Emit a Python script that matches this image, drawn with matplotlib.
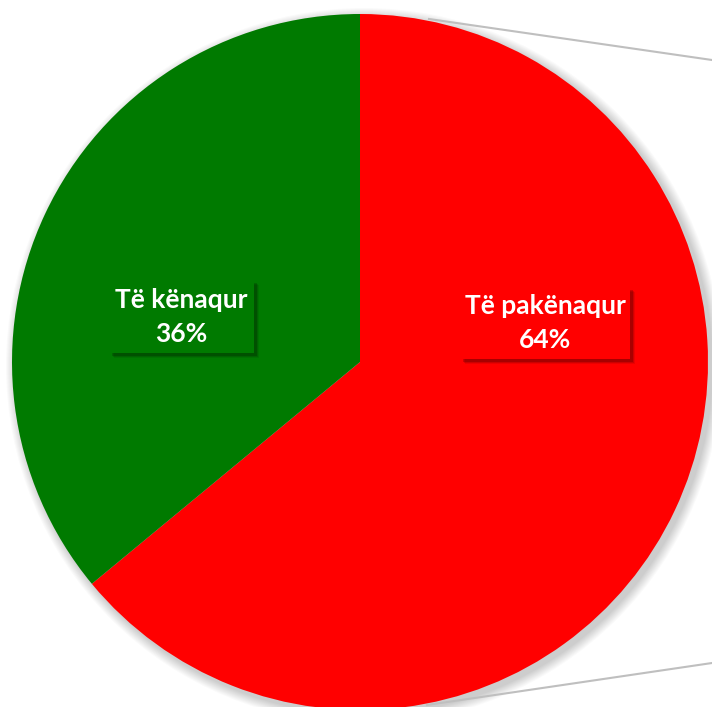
import matplotlib.pyplot as plt
from matplotlib.patches import Circle, Rectangle

labels = ['Të pakënaqur', 'Të kënaqur']
values = [64, 36]
colors = ['#FF0000', '#007A00']

W, H = 712, 707
fig = plt.figure(figsize=(W / 100, H / 100), dpi=100)
ax = fig.add_axes([0, 0, 1, 1])

cx, cy, r = 360, 345, 348

# soft shadow under the pie
for i in range(10):
    ax.add_patch(Circle((cx + 4, cy - 4), r + 10 - i, color='#000000',
                        alpha=0.018, lw=0, zorder=0))

# connector lines (pie of pie style)
ax.plot([429, 712], [H - 19, H - 60], color='#BFBFBF', lw=1.5, zorder=1)
ax.plot([427, 712], [H - 705, H - 663], color='#BFBFBF', lw=1.5, zorder=1)

wedges, _ = ax.pie(values, colors=colors, startangle=90, counterclock=False,
                   center=(cx, cy), radius=r, frame=True,
                   wedgeprops=dict(lw=0, zorder=2))
ax.set_xlim(0, W)
ax.set_ylim(0, H)
ax.set_aspect('equal')
ax.axis('off')

# label boxes: (x0, y0 top in px, width, height)
boxes = [(460, 287, 170, 72), (109, 280, 145, 73)]
for (x0, y0, bw, bh), lab, val, col in zip(boxes, labels, values, colors):
    yb = H - y0 - bh
    for k, a in enumerate([0.08, 0.12, 0.18]):
        off = 5 - k
        ax.add_patch(Rectangle((x0 + off, yb - off), bw, bh, color='black',
                               alpha=a, lw=0, zorder=3))
    ax.add_patch(Rectangle((x0, yb), bw, bh, color=col, lw=0, zorder=4))
    ax.text(x0 + bw / 2, yb + bh / 2, f'{lab}\n{val}%', ha='center', va='center',
            color='white', fontsize=19, fontweight='bold', family='Lato',
            linespacing=1.5, zorder=5)

fig.savefig('out.png', dpi=100)
